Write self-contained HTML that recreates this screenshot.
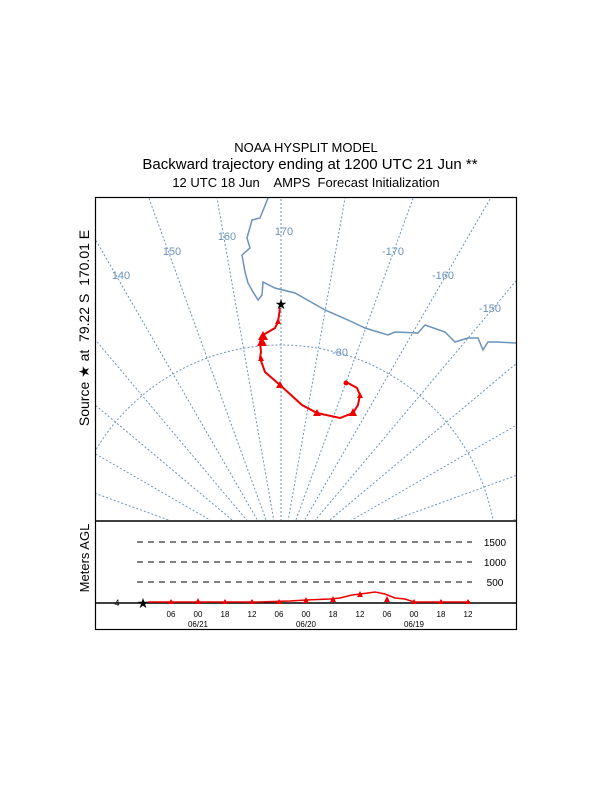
<!DOCTYPE html>
<html><head><style>
html,body{margin:0;padding:0;background:#fff;width:612px;height:792px;overflow:hidden;}
svg{display:block;font-family:"Liberation Sans",sans-serif;}
</style></head><body>
<svg width="612" height="792" viewBox="0 0 612 792">
<text x="306" y="152" font-size="13" text-anchor="middle">NOAA HYSPLIT MODEL</text>
<text x="310" y="169" font-size="15" text-anchor="middle">Backward trajectory ending at 1200 UTC 21 Jun **</text>
<text x="306" y="187" font-size="13" text-anchor="middle" xml:space="preserve">12 UTC 18 Jun    AMPS  Forecast Initialization</text>
<text transform="translate(89,328) rotate(-90)" font-size="14" text-anchor="middle" xml:space="preserve">Source ★ at  79.22 S  170.01 E</text>
<text transform="translate(89,558) rotate(-90)" font-size="13" text-anchor="middle">Meters AGL</text>
<defs><clipPath id="c"><rect x="96" y="198" width="420" height="322"/></clipPath>
<line id="L" x1="281" y1="561" x2="281" y2="0"/></defs>
<g clip-path="url(#c)" stroke="#6a93bb" stroke-width="1" fill="none" stroke-dasharray="2,2">
<circle cx="281" cy="561" r="216"/>
<use href="#L"/>
<use href="#L" transform="rotate(10 281 561)"/><use href="#L" transform="rotate(20 281 561)"/>
<use href="#L" transform="rotate(30 281 561)"/><use href="#L" transform="rotate(40 281 561)"/>
<use href="#L" transform="rotate(50 281 561)"/><use href="#L" transform="rotate(60 281 561)"/>
<use href="#L" transform="rotate(70 281 561)"/><use href="#L" transform="rotate(80 281 561)"/>
<use href="#L" transform="rotate(90 281 561)"/>
<use href="#L" transform="rotate(-10 281 561)"/><use href="#L" transform="rotate(-20 281 561)"/>
<use href="#L" transform="rotate(-30 281 561)"/><use href="#L" transform="rotate(-40 281 561)"/>
<use href="#L" transform="rotate(-50 281 561)"/><use href="#L" transform="rotate(-60 281 561)"/>
<use href="#L" transform="rotate(-70 281 561)"/><use href="#L" transform="rotate(-80 281 561)"/>
<use href="#L" transform="rotate(-90 281 561)"/>
</g>
<polyline clip-path="url(#c)" fill="none" stroke="#6a93bb" stroke-width="1.5" points="268,198 260,218 252,220 247,238 250,248 242,255 245,272 248,283 253,292 258,300 262,295 263,282 275,288 295,293 325,310 348,320 365,328 388,335 395,332 418,333 425,325 445,332 455,342 468,338 478,338 483,350 488,342 495,342 517,343"/>
<g fill="#6a93bb" font-size="11" text-anchor="middle">
<text x="121" y="279">140</text><text x="172" y="255">150</text><text x="227" y="240">160</text>
<text x="284" y="235">170</text><text x="393" y="255">-170</text><text x="443" y="279">-160</text>
<text x="490" y="312">-150</text><text x="340" y="356">-80</text>
</g>
<polyline fill="none" stroke="#e00" stroke-width="2" points="280,308 278,322 275,328 263,335 260,342 261,352 260,358 265,372 280,385 302,405 317,413 340,418 353,413 358,405 360,395 357,388 348,383 345,384"/>
<g fill="#e00">
<polygon points="263,331 268,340 258,340"/><polygon points="262,337 267,346 257,346"/>
<polygon points="278,318 281,324 275,324"/><polygon points="261,355 264,361 258,361"/>
<polygon points="280,381 284,388 276,388"/><polygon points="317,409 321,416 313,416"/>
<polygon points="353,408 357,416 349,416"/><polygon points="360,392 363,398 357,398"/>
<circle cx="346" cy="383" r="2.5"/>
</g>
<text x="281" y="309" font-size="14" text-anchor="middle">★</text>
<rect x="95.5" y="197.5" width="421" height="432" fill="none" stroke="#000" stroke-width="1.2"/>
<line x1="95" y1="521" x2="517" y2="521" stroke="#000" stroke-width="1.5"/>
<g stroke="#000" stroke-dasharray="6,5" stroke-width="1">
<line x1="137" y1="542" x2="472" y2="542"/><line x1="137" y1="562" x2="472" y2="562"/><line x1="137" y1="582" x2="472" y2="582"/>
</g>
<g font-size="10" text-anchor="middle"><text x="495" y="546">1500</text><text x="495" y="566">1000</text><text x="495" y="586">500</text></g>
<line x1="95" y1="603" x2="517" y2="603" stroke="#000" stroke-width="1.5"/>
<text x="117" y="606" font-size="9" text-anchor="middle">4</text>
<text x="143" y="608" font-size="14" text-anchor="middle">★</text>
<polyline fill="none" stroke="#e00" stroke-width="1.5" points="148,602 258,602 290,601 306,600 330,599 340,598 352,595 368,593 375,592 385,594 395,598 405,599 414,602 470,602"/>
<g fill="#e00">
<polygon points="171,599 174,604 168,604"/><polygon points="198,598 201,604 195,604"/><polygon points="225,599 228,604 222,604"/><polygon points="252,599 255,604 249,604"/><polygon points="279,599 282,604 276,604"/><polygon points="306,597 309,603 303,603"/><polygon points="333,596 336,602 330,602"/><polygon points="360,591 363,597 357,597"/><polygon points="387,596 390,602 384,602"/><polygon points="414,599 417,604 411,604"/><polygon points="441,599 444,604 438,604"/><polygon points="468,599 471,604 465,604"/>
</g>
<g font-size="8" text-anchor="middle">
<text x="171" y="617">06</text><text x="198" y="617">00</text><text x="225" y="617">18</text><text x="252" y="617">12</text><text x="279" y="617">06</text><text x="306" y="617">00</text><text x="333" y="617">18</text><text x="360" y="617">12</text><text x="387" y="617">06</text><text x="414" y="617">00</text><text x="441" y="617">18</text><text x="468" y="617">12</text>
<text x="198" y="627">06/21</text><text x="306" y="627">06/20</text><text x="414" y="627">06/19</text>
</g>
</svg>
</body></html>
